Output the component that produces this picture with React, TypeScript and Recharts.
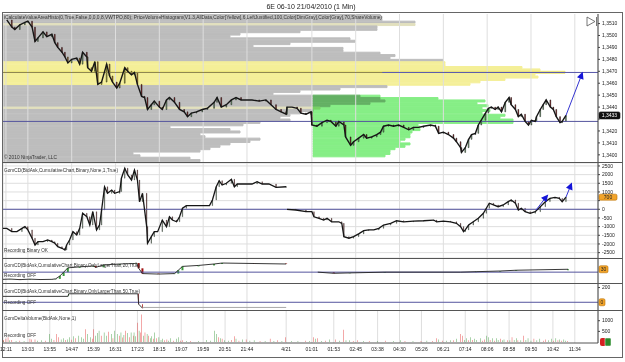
import React from "react";
import {
  ComposedChart,
  BarChart,
  Bar,
  Line,
  XAxis,
  YAxis,
  CartesianGrid,
  ReferenceLine,
  Cell,
} from "recharts";

const FONT = "'Liberation Sans', Arial, Helvetica, sans-serif";

// ---------------- time axis (bar number of the 1-minute series) ----------------
const barDomain: [number, number] = [0, 1412];
const timeTickBars = [7, 59, 111, 163, 215, 267, 319, 371, 423, 475, 527, 579, 672, 733, 785, 837, 889, 941, 993, 1045, 1097, 1149, 1201, 1253, 1305, 1357];
const timeTickLabels = ["12:11", "13:03", "13:55", "14:47", "15:39", "16:31", "17:23", "18:15", "19:07", "19:59", "20:51", "21:44", "4/21", "01:01", "01:53", "02:45", "03:38", "04:30", "05:26", "06:21", "07:14", "08:06", "08:58", "09:50", "10:42", "11:34"];

// ---------------- price (6E 06-10) ----------------
const priceBars = [9, 21, 28, 40, 52, 59, 69, 76, 83, 95, 104, 116, 123, 130, 140, 147, 154, 163, 175, 182, 189, 199, 201, 210, 218, 225, 234, 246, 253, 260, 270, 277, 289, 296, 305, 312, 319, 329, 336, 343, 352, 359, 371, 378, 388, 395, 407, 419, 430, 438, 447, 459, 473, 485, 501, 508, 518, 530, 542, 553, 565, 577, 591, 608, 624, 636, 648, 660, 672, 674, 686, 698, 707, 719, 731, 733, 745, 757, 769, 778, 790, 797, 809, 813, 825, 832, 844, 856, 863, 875, 887, 896, 903, 915, 927, 939, 951, 963, 974, 986, 998, 1015, 1026, 1034, 1045, 1057, 1069, 1076, 1086, 1088, 1097, 1105, 1112, 1121, 1128, 1135, 1145, 1152, 1159, 1168, 1175, 1183, 1192, 1201, 1206, 1216, 1223, 1230, 1239, 1247, 1254, 1263, 1266, 1275, 1282, 1289, 1299, 1306, 1313, 1322, 1327, 1336];
const priceCloses = [1.3513, 1.3507, 1.3505, 1.3509, 1.3511, 1.3512, 1.3507, 1.3495, 1.3498, 1.3503, 1.3499, 1.3501, 1.3494, 1.349, 1.3486, 1.3482, 1.3477, 1.348, 1.3481, 1.3476, 1.3486, 1.3482, 1.3473, 1.347, 1.3478, 1.3459, 1.3461, 1.3476, 1.3466, 1.3461, 1.3456, 1.346, 1.3473, 1.347, 1.3467, 1.3469, 1.3459, 1.3449, 1.3448, 1.3438, 1.3442, 1.3445, 1.344, 1.3438, 1.3446, 1.3448, 1.3444, 1.3438, 1.3436, 1.3432, 1.3435, 1.3436, 1.3438, 1.3439, 1.3444, 1.3448, 1.344, 1.3442, 1.3446, 1.3448, 1.3446, 1.3446, 1.3446, 1.3445, 1.3446, 1.3442, 1.3438, 1.3436, 1.3434, 1.344, 1.344, 1.3439, 1.3435, 1.3434, 1.3436, 1.3425, 1.3424, 1.3427, 1.3429, 1.3428, 1.3424, 1.3428, 1.3425, 1.3415, 1.3408, 1.3411, 1.3414, 1.3417, 1.3414, 1.3415, 1.3417, 1.3419, 1.3424, 1.3425, 1.3424, 1.3425, 1.3423, 1.3421, 1.3423, 1.3423, 1.3424, 1.3425, 1.3424, 1.3418, 1.3419, 1.3417, 1.3414, 1.3411, 1.3406, 1.3402, 1.3406, 1.3413, 1.3417, 1.3418, 1.3425, 1.3429, 1.3435, 1.3439, 1.344, 1.3438, 1.344, 1.3436, 1.3444, 1.3448, 1.3442, 1.3438, 1.3432, 1.3434, 1.3428, 1.3425, 1.3429, 1.3428, 1.3432, 1.3438, 1.3442, 1.3446, 1.344, 1.3438, 1.3432, 1.3427, 1.3428, 1.3433];
const priceDomain: [number, number] = [1.3394, 1.3518];
const priceTicks = [1.34, 1.341, 1.342, 1.343, 1.344, 1.345, 1.346, 1.347, 1.348, 1.349, 1.35, 1.351];
const pocPrice = 1.3469;
const supportPrice = 1.3428;
const valueAreaLow = 1.3458;
const valueAreaHigh = 1.3478;
const priceArrowBars = [1336, 1372];
const priceArrowValues = [1.3433, 1.3466];

// ---------------- volume profiles ----------------
const profileLevels = [1.3517, 1.3515, 1.3513, 1.3511, 1.3509, 1.3507, 1.3505, 1.3503, 1.3501, 1.3499, 1.3497, 1.3495, 1.3493, 1.3491, 1.3489, 1.3487, 1.3485, 1.3483, 1.3481, 1.3479, 1.3477, 1.3475, 1.3473, 1.3471, 1.3469, 1.3467, 1.3465, 1.3463, 1.3461, 1.3459, 1.3457, 1.3455, 1.3453, 1.3451, 1.3449, 1.3447, 1.3445, 1.3443, 1.3441, 1.3439, 1.3437, 1.3435, 1.3433, 1.3431, 1.3429, 1.3427, 1.3425, 1.3423, 1.3421, 1.3419, 1.3417, 1.3415, 1.3413, 1.3411, 1.3409, 1.3407, 1.3405, 1.3403, 1.3401, 1.3399, 1.3397, 1.3395];
const allDataProfileVolume = [377, 379, 379, 412, 412, 374, 374, 297, 237, 227, 347, 352, 287, 250, 340, 340, 377, 392, 387, 440, 442, 442, 519, 537, 562, 532, 535, 502, 477, 467, 384, 337, 297, 270, 357, 377, 382, 367, 327, 317, 310, 297, 287, 277, 287, 257, 240, 167, 227, 237, 197, 202, 257, 247, 227, 217, 207, 197, 130, 137, 187, 197];
const valueAreaEdgeLevels = [1.3509, 1.3439];
const sessionProfileLevels = [1.3449, 1.3447, 1.3445, 1.3443, 1.3441, 1.3439, 1.3437, 1.3435, 1.3433, 1.3431, 1.3429, 1.3427, 1.3425, 1.3423, 1.3421, 1.3419, 1.3417, 1.3415, 1.3413, 1.3411, 1.3409, 1.3407, 1.3405, 1.3403, 1.3401, 1.3399];
const sessionProfileVolume = [67, 125, 172, 164, 175, 169, 177, 169, 192, 187, 200, 200, 105, 107, 107, 99, 97, 97, 92, 87, 97, 92, 82, 77, 77, 72];
const profileDomain: [number, number] = [0, 595];
const sessionProfileAnchor = 310;

// ---------------- GomCD cumulative delta ----------------
const cdDay1Bars = [0, 9, 21, 33, 45, 52, 59, 69, 76, 83, 95, 106, 116, 123, 130, 140, 147, 151, 158, 166, 175, 182, 189, 199, 206, 213, 222, 229, 234, 241, 248, 258, 265, 277, 281, 289, 296, 305, 312, 319, 324, 331, 341, 343, 352, 359, 367, 378, 388, 395, 402, 412, 419, 426, 435, 490, 497, 506, 513, 520, 530, 542, 549, 556, 577, 591, 603, 615, 631, 648, 672];
const cdDay1Values = [-1100, -1100, -1290, -1290, -1100, -1000, -1190, -1670, -2060, -1870, -1870, -1770, -1870, -1960, -2160, -2250, -2350, -2060, -1770, -1290, -1480, -1100, -230, -430, -910, -140, -1190, -910, -40, 1300, 920, 1110, 920, 1020, 1790, 2370, 1980, 1690, 2270, 1690, 440, 920, -1000, -1960, -1580, -1290, -1290, -620, -1000, -430, -620, -720, -430, 60, 210, 210, 540, 1300, 1650, 1400, 1500, 1730, 1300, 1460, 1460, 1460, 1590, 1460, 1460, 1270, 1300];
const cdDay2Bars = [674, 695, 719, 733, 738, 750, 761, 769, 780, 797, 804, 809, 821, 832, 844, 856, 868, 880, 892, 903, 920, 934, 951, 974, 998, 1022, 1029, 1045, 1062, 1076, 1086, 1093, 1097, 1105, 1116, 1128, 1140, 1147, 1154, 1164, 1175, 1187, 1199, 1206, 1216, 1223, 1230, 1239, 1251, 1263, 1275, 1287, 1298, 1310, 1320, 1327, 1336];
const cdDay2Values = [0, -40, -140, -140, -430, -520, -620, -520, -720, -720, -810, -1580, -1670, -1580, -1420, -1230, -1190, -1190, -1100, -910, -810, -660, -720, -680, -660, -620, -720, -680, -720, -810, -1000, -1290, -1190, -910, -720, -520, -230, 60, 350, 250, 150, 250, 440, 540, 350, -40, 60, -140, -230, -140, 150, 440, 630, 690, 630, 440, 700];
const cdDomain: [number, number] = [-2810, 2671];
const cdTicks = [-2500, -2000, -1500, -1000, -500, 0, 500, 1000, 1500, 2000, 2500];
const cdArrow1Bars = [1265, 1287];
const cdArrow1Values = [-40, 650];
const cdArrow2Bars = [1336, 1346];
const cdArrow2Values = [700, 1300];

// ---------------- GomCD only larger than 20 ----------------
const cd20Day1Bars = [0, 17, 40, 64, 88, 116, 125, 135, 144, 154, 182, 215, 220, 239, 277, 312, 317, 322, 331, 369, 407, 416, 426, 464, 501, 520, 596, 672];
const cd20Day1Values = [-75, -72, -78, -73, -77, -75, -70, -40, 0, 45, 55, 65, 50, 75, 85, 90, 95, 40, -15, -20, -15, 20, 60, 70, 85, 95, 90, 85];
const cd20Day2Bars = [747, 785, 823, 906, 1086, 1123, 1180, 1218, 1341];
const cd20Day2Values = [0, -12, -8, 0, 0, 5, 12, 20, 30];
const cd20Domain: [number, number] = [-113, 137];

// ---------------- GomCD only larger than 50 ----------------
const cd50Bars = [0, 154, 156, 320, 322, 331];
const cd50Values = [80, 80, 115, 115, -26, -80];
const cd50TailBars = [331, 672];
const cd50TailValues = [-70, -70];
const cd50Domain: [number, number] = [-105, 248];

// ---------------- GomDeltaVolume ----------------
type DV = [number, number, "b" | "s"];
const deltaVolumeDay1: DV[] = [[1, 60, "b"], [2, 90, "s"], [7, 150, "s"], [12, 230, "s"], [16, 80, "b"], [21, 90, "s"], [31, 50, "b"], [40, 60, "s"], [50, 50, "b"], [64, 150, "s"], [68, 120, "s"], [76, 120, "s"], [82, 60, "b"], [92, 80, "b"], [101, 60, "s"], [111, 380, "b"], [115, 150, "b"], [121, 90, "s"], [127, 380, "s"], [132, 230, "s"], [138, 120, "b"], [144, 180, "b"], [149, 90, "s"], [153, 120, "b"], [158, 230, "b"], [163, 110, "s"], [167, 270, "b"], [172, 180, "s"], [180, 300, "b"], [186, 230, "b"], [191, 150, "b"], [196, 600, "s"], [200, 380, "b"], [208, 230, "b"], [212, 150, "s"], [215, 600, "s"], [219, 300, "b"], [224, 420, "b"], [228, 530, "b"], [233, 300, "s"], [240, 450, "b"], [245, 300, "b"], [251, 480, "s"], [257, 380, "b"], [261, 180, "s"], [264, 530, "b"], [271, 380, "b"], [276, 300, "s"], [280, 450, "b"], [284, 210, "s"], [287, 330, "b"], [291, 530, "s"], [296, 420, "b"], [300, 230, "s"], [304, 450, "b"], [309, 300, "s"], [311, 450, "b"], [315, 270, "b"], [320, 900, "s"], [323, 530, "b"], [326, 450, "s"], [329, 1290, "s"], [333, 300, "b"], [337, 450, "s"], [342, 380, "b"], [346, 300, "s"], [350, 180, "b"], [353, 270, "b"], [357, 150, "s"], [360, 450, "b"], [365, 180, "s"], [370, 230, "b"], [375, 90, "b"], [379, 150, "b"], [384, 80, "s"], [389, 120, "s"], [393, 60, "b"], [398, 180, "b"], [405, 60, "s"], [412, 150, "b"], [417, 230, "b"], [422, 60, "s"], [426, 80, "s"], [436, 50, "b"], [445, 50, "s"], [464, 50, "b"], [483, 90, "b"], [492, 60, "b"], [502, 530, "b"], [506, 380, "b"], [511, 230, "s"], [516, 180, "b"], [520, 150, "s"], [526, 80, "b"], [535, 60, "b"], [542, 90, "s"], [549, 270, "s"], [553, 150, "b"], [560, 60, "s"], [568, 120, "b"], [577, 120, "s"], [586, 60, "b"], [596, 80, "b"], [610, 50, "s"], [622, 50, "b"], [634, 150, "s"], [643, 50, "b"], [652, 80, "s"], [662, 50, "b"], [671, 230, "s"]];
const deltaVolumeDay2: DV[] = [[685, 50, "b"], [700, 50, "b"], [718, 60, "s"], [728, 50, "b"], [737, 230, "s"], [742, 150, "b"], [747, 180, "s"], [756, 50, "b"], [765, 60, "s"], [775, 120, "b"], [789, 120, "s"], [798, 60, "b"], [808, 580, "s"], [814, 80, "b"], [822, 80, "b"], [831, 50, "s"], [841, 80, "s"], [855, 50, "b"], [869, 50, "s"], [888, 50, "b"], [907, 60, "s"], [926, 50, "b"], [944, 80, "b"], [954, 50, "s"], [973, 50, "b"], [992, 50, "s"], [1006, 60, "b"], [1020, 50, "s"], [1029, 180, "s"], [1034, 120, "b"], [1043, 60, "s"], [1053, 60, "b"], [1062, 80, "b"], [1069, 80, "s"], [1076, 150, "b"], [1086, 380, "s"], [1090, 300, "s"], [1095, 90, "b"], [1100, 180, "b"], [1105, 80, "s"], [1109, 230, "b"], [1114, 90, "s"], [1119, 150, "b"], [1123, 90, "b"], [1133, 180, "b"], [1138, 60, "s"], [1142, 120, "s"], [1147, 300, "b"], [1152, 230, "b"], [1156, 90, "s"], [1161, 180, "b"], [1166, 60, "s"], [1171, 180, "b"], [1175, 90, "b"], [1180, 150, "s"], [1185, 80, "b"], [1189, 120, "b"], [1197, 80, "s"], [1203, 80, "b"], [1208, 230, "s"], [1213, 90, "b"], [1218, 180, "b"], [1222, 80, "s"], [1229, 80, "b"], [1236, 300, "s"], [1241, 90, "b"], [1246, 180, "b"], [1253, 60, "b"], [1260, 150, "s"], [1267, 80, "b"], [1274, 150, "b"], [1282, 60, "s"], [1288, 120, "s"], [1295, 80, "b"], [1302, 150, "b"], [1307, 60, "s"], [1312, 180, "b"], [1317, 80, "s"], [1321, 120, "b"], [1326, 60, "s"], [1331, 120, "b"], [1335, 60, "b"], [1340, 50, "s"]];
const deltaDomain: [number, number] = [-45, 1455];
const deltaTicks = [500, 1000];

// ---------------- helpers ----------------
const near = (a: number, b: number) => Math.abs(a - b) < 1e-7;

function candles(bars: number[], values: number[], key: string) {
  return bars.map((bar, i) => {
    const v = values[i];
    const o = i > 0 ? values[i - 1] : v;
    return { bar, [key]: v, body: [Math.min(o, v), Math.max(o, v)], up: v >= o };
  });
}

const priceData = candles(priceBars, priceCloses, "close");
const priceArrow = priceArrowBars.map((bar, i) => ({ bar, v: priceArrowValues[i] }));

const profileData = profileLevels.map((level, i) => {
  const j = sessionProfileLevels.findIndex((l) => near(l, level));
  return {
    level: level.toFixed(4),
    price: level,
    allData: allDataProfileVolume[i],
    anchor: sessionProfileAnchor,
    session: j >= 0 ? sessionProfileVolume[j] : 0,
  };
});

const cdData = [
  ...candles(cdDay1Bars, cdDay1Values, "cd"),
  { bar: 673, cd: null as any, body: null as any, up: true },
  ...candles(cdDay2Bars, cdDay2Values, "cd"),
];
const cdArrow1 = cdArrow1Bars.map((bar, i) => ({ bar, v: cdArrow1Values[i] }));
const cdArrow2 = cdArrow2Bars.map((bar, i) => ({ bar, v: cdArrow2Values[i] }));

const cd20Data = [
  ...candles(cd20Day1Bars, cd20Day1Values, "cd"),
  { bar: 700, cd: null as any, body: null as any, up: true },
  ...candles(cd20Day2Bars, cd20Day2Values, "cd"),
];

const cd50Data = [
  ...candles(cd50Bars, cd50Values, "cd"),
  ...cd50TailBars.map((bar, i) => ({ bar, tail: cd50TailValues[i], body: null as any, up: true })),
];

const deltaData = [...deltaVolumeDay1, ...deltaVolumeDay2].map(([bar, vol, side]) => ({ bar, vol, side }));

const lastClose = priceCloses[priceCloses.length - 1];
const lastCd = cdDay2Values[cdDay2Values.length - 1];
const fmtPrice = (v: number) => v.toFixed(4).replace(".", ",");
// last-value tags sit on top of the tick labels they cover
const fmtPriceTick = (v: number) => (Math.abs(v - lastClose) < 0.0005 ? "" : fmtPrice(v));
const fmtCdTick = (v: number) => (Math.abs(v - lastCd) < 300 ? "" : String(v));
const fmtTime = (v: number) => {
  const i = timeTickBars.indexOf(v);
  return i >= 0 ? timeTickLabels[i] : "";
};

// ---------------- small render pieces ----------------
function AxisTag(props: any) {
  const { viewBox, text, bg, fg, w = 21, h = 7, border } = props;
  if (!viewBox) return null;
  const x = viewBox.x + viewBox.width + 1;
  const y = viewBox.y;
  return (
    <g>
      <rect x={x} y={y - h / 2} width={w} height={h} rx={1.5} fill={bg} stroke={border || bg} strokeWidth={0.6} />
      <text x={x + w / 2} y={y + 1.8} fontSize={5} fill={fg} textAnchor="middle">
        {text}
      </text>
    </g>
  );
}

function DeltaTag(props: any) {
  const { viewBox } = props;
  if (!viewBox) return null;
  const x = viewBox.x + viewBox.width + 2;
  const y = viewBox.y;
  return (
    <g>
      <rect x={x} y={y - 4} width={6} height={8} rx={2} fill="#d42020" />
      <rect x={x + 5} y={y - 4} width={6} height={8} rx={1} fill="#2a8a2a" stroke="#fff" strokeWidth={0.5} />
    </g>
  );
}

const arrowDot = (rot: number) => (p: any) => {
  const { cx, cy, index } = p;
  if (index !== 1 || cx == null) return <g key={`ad${index}`} />;
  return (
    <polygon
      key={`ad${index}`}
      points="0,-4.5 3.5,2.5 -3.5,2.5"
      transform={`translate(${cx},${cy}) rotate(${rot})`}
      fill="#1414d8"
    />
  );
};

const axisTick = { fontSize: 5, fill: "#222" };
const gridColor = "#dedede";

function Pane({ top, left = 0, blend, children }: { top: number; left?: number; blend?: any; children: React.ReactNode }) {
  return <div style={{ position: "absolute", top, left, mixBlendMode: blend }}>{children}</div>;
}

const candleFill = (d: any, vaColor: boolean) => {
  const inVA = vaColor && d.close >= valueAreaLow && d.close <= valueAreaHigh;
  if (inVA) return d.up ? "#d4dc48" : "#e6901e";
  return d.up ? "#98d898" : "#a01010";
};

const profileFill = (price: number) => {
  const va = price >= valueAreaLow && price <= valueAreaHigh;
  const edge = valueAreaEdgeLevels.some((l) => near(l, price));
  return va ? (near(price, pocPrice) ? "#efe878" : "#f4ef98") : edge ? "#e2e0be" : "#bdbdbd";
};

const sessionGreen = "#86ee86";

export default function App() {
  const lastCd20 = cd20Day2Values[cd20Day2Values.length - 1];
  const ann = "#333";
  return (
    <div
      style={{
        position: "absolute",
        left: 0,
        top: 0,
        width: 625,
        height: 362,
        background: "#fff",
        overflow: "hidden",
        fontFamily: FONT,
        isolation: "isolate",
      }}
    >
      {/* session profile (all data) */}
      <Pane top={14} left={3}>
        <BarChart layout="vertical" width={595} height={148} data={profileData} margin={{ top: 0, right: 0, bottom: 0, left: 0 }} barCategoryGap={0}>
          <XAxis type="number" domain={profileDomain} hide allowDataOverflow />
          <YAxis type="category" dataKey="level" hide />
          <Bar dataKey="allData" isAnimationActive={false}>
            {profileData.map((d, i) => {
              const fill = profileFill(d.price);
              return <Cell key={i} fill={fill} stroke={fill} strokeWidth={1} />;
            })}
          </Bar>
        </BarChart>
      </Pane>

      {/* current session profile (multiplied over the all-data profile) */}
      <Pane top={14} left={3} blend="multiply">
        <BarChart layout="vertical" width={595} height={148} data={profileData} margin={{ top: 0, right: 0, bottom: 0, left: 0 }} barCategoryGap={0}>
          <XAxis type="number" domain={profileDomain} hide allowDataOverflow />
          <YAxis type="category" dataKey="level" hide />
          <Bar dataKey="anchor" stackId="s" fill="none" isAnimationActive={false} />
          <Bar dataKey="session" stackId="s" fill={sessionGreen} stroke={sessionGreen} strokeWidth={1} isAnimationActive={false} />
        </BarChart>
      </Pane>

      {/* price panel */}
      <Pane top={14}>
        <ComposedChart width={625} height={148} data={priceData} margin={{ top: 0, right: 0, bottom: 0, left: 3 }}>
          <CartesianGrid horizontal={false} stroke={gridColor} />
          <XAxis type="number" dataKey="bar" domain={barDomain} ticks={timeTickBars} hide allowDataOverflow />
          <YAxis
            orientation="right"
            width={27}
            domain={priceDomain}
            ticks={priceTicks}
            interval={0}
            tick={axisTick}
            tickSize={2}
            tickFormatter={fmtPriceTick}
            axisLine={{ stroke: "#444" }}
            tickLine={{ stroke: "#444" }}
            allowDataOverflow
          />
          <ReferenceLine y={pocPrice} stroke="#8c8450" />
          <ReferenceLine segment={[{ x: 900, y: pocPrice }, { x: 1412, y: pocPrice }]} stroke="#5c5cb0" />
          <ReferenceLine y={supportPrice} stroke="#55559e" />
          <Line dataKey="close" stroke="#161616" strokeWidth={1.4} dot={false} isAnimationActive={false} />
          <Bar dataKey="body" barSize={3} stroke="#111" strokeWidth={0.5} isAnimationActive={false}>
            {priceData.map((d, i) => (
              <Cell key={i} fill={candleFill(d, true)} />
            ))}
          </Bar>
          <Line data={priceArrow} dataKey="v" stroke="#3434d0" strokeWidth={1} dot={arrowDot(21)} isAnimationActive={false} />
          <ReferenceLine y={lastClose} stroke="none" label={<AxisTag text={fmtPrice(lastClose)} bg="#111" fg="#fff" />} />
        </ComposedChart>
      </Pane>

      {/* cumulative delta panel */}
      <Pane top={163}>
        <ComposedChart width={625} height={95} data={cdData} margin={{ top: 0, right: 0, bottom: 0, left: 3 }}>
          <CartesianGrid stroke={gridColor} />
          <XAxis type="number" dataKey="bar" domain={barDomain} ticks={timeTickBars} hide allowDataOverflow />
          <YAxis
            orientation="right"
            width={27}
            domain={cdDomain}
            ticks={cdTicks}
            interval={0}
            tick={axisTick}
            tickSize={2}
            tickFormatter={fmtCdTick}
            axisLine={{ stroke: "#444" }}
            tickLine={{ stroke: "#444" }}
            allowDataOverflow
          />
          <ReferenceLine y={0} stroke="#55559e" />
          <Line dataKey="cd" stroke="#161616" strokeWidth={1.3} dot={false} connectNulls={false} isAnimationActive={false} />
          <Bar dataKey="body" barSize={3} stroke="#111" strokeWidth={0.4} isAnimationActive={false}>
            {cdData.map((d: any, i) => (
              <Cell key={i} fill={d.up ? "#9fd49f" : "#a01010"} />
            ))}
          </Bar>
          <Line data={cdArrow1} dataKey="v" stroke="#3434d0" strokeWidth={1} dot={arrowDot(40)} isAnimationActive={false} />
          <Line data={cdArrow2} dataKey="v" stroke="#3434d0" strokeWidth={1} dot={arrowDot(22)} isAnimationActive={false} />
          <ReferenceLine y={lastCd} stroke="none" label={<AxisTag text={String(lastCd)} bg="#f2a42a" fg="#222" border="#b86e00" w={18} h={6} />} />
        </ComposedChart>
      </Pane>

      {/* GomCD > 20 */}
      <Pane top={259}>
        <ComposedChart width={625} height={24} data={cd20Data} margin={{ top: 0, right: 0, bottom: 0, left: 3 }}>
          <CartesianGrid horizontal={false} stroke={gridColor} />
          <XAxis type="number" dataKey="bar" domain={barDomain} ticks={timeTickBars} hide allowDataOverflow />
          <YAxis orientation="right" width={27} domain={cd20Domain} ticks={[]} tick={false} axisLine={{ stroke: "#444" }} allowDataOverflow />
          <ReferenceLine y={0} stroke="#55559e" />
          <Line dataKey="cd" stroke="#222" strokeWidth={0.9} dot={false} connectNulls={false} isAnimationActive={false} />
          <Bar dataKey="body" barSize={2} isAnimationActive={false}>
            {cd20Data.map((d: any, i) => (
              <Cell key={i} fill={d.up ? "#3c9a3c" : "#a01010"} />
            ))}
          </Bar>
          <ReferenceLine y={lastCd20} stroke="none" label={<AxisTag text={String(lastCd20)} bg="#f2a42a" fg="#222" border="#b86e00" w={9} />} />
        </ComposedChart>
      </Pane>

      {/* GomCD > 50 */}
      <Pane top={284}>
        <ComposedChart width={625} height={26} data={cd50Data} margin={{ top: 0, right: 0, bottom: 0, left: 3 }}>
          <CartesianGrid horizontal={false} stroke={gridColor} />
          <XAxis type="number" dataKey="bar" domain={barDomain} ticks={timeTickBars} hide allowDataOverflow />
          <YAxis
            orientation="right"
            width={27}
            domain={cd50Domain}
            ticks={[200]}
            interval={0}
            tick={axisTick}
            tickSize={2}
            axisLine={{ stroke: "#444" }}
            tickLine={{ stroke: "#444" }}
            allowDataOverflow
          />
          <ReferenceLine y={0} stroke="#55559e" />
          <Line dataKey="cd" stroke="#222" strokeWidth={0.9} dot={false} isAnimationActive={false} />
          <Line dataKey="tail" stroke="#a8a8a8" strokeWidth={1} dot={false} isAnimationActive={false} />
          <Bar dataKey="body" barSize={2} isAnimationActive={false}>
            {cd50Data.map((d: any, i) => (
              <Cell key={i} fill={d.up ? "#3c9a3c" : "#a01010"} />
            ))}
          </Bar>
          <ReferenceLine y={0} stroke="none" label={<AxisTag text="0" bg="#f2a42a" fg="#222" border="#b86e00" w={6} />} />
        </ComposedChart>
      </Pane>

      {/* GomDeltaVolume + time axis */}
      <Pane top={311}>
        <BarChart width={625} height={47} data={deltaData} margin={{ top: 0, right: 0, bottom: 0, left: 3 }}>
          <CartesianGrid horizontal={false} stroke={gridColor} />
          <XAxis
            type="number"
            dataKey="bar"
            domain={barDomain}
            ticks={timeTickBars}
            interval={0}
            tickFormatter={fmtTime}
            tick={axisTick}
            tickLine={false}
            tickSize={0}
            tickMargin={4}
            height={15}
            axisLine={{ stroke: "#555" }}
            allowDataOverflow
          />
          <YAxis
            orientation="right"
            width={27}
            domain={deltaDomain}
            ticks={deltaTicks}
            interval={0}
            tick={axisTick}
            tickSize={2}
            axisLine={{ stroke: "#444" }}
            tickLine={{ stroke: "#444" }}
            allowDataOverflow
          />
          <Bar dataKey="vol" barSize={1.6} isAnimationActive={false}>
            {deltaData.map((d, i) => (
              <Cell key={i} fill={d.side === "b" ? "#218a21" : "#e01c1c"} />
            ))}
          </Bar>
          <ReferenceLine y={0} stroke="none" label={<DeltaTag />} />
        </BarChart>
      </Pane>

      {/* frame, titles and indicator captions */}
      <svg width={625} height={362} style={{ position: "absolute", left: 0, top: 0, pointerEvents: "none" }}>
        <text x={311} y={9} fontSize={7} textAnchor="middle" fill="#222">
          6E 06-10  21/04/2010 (1 Min)
        </text>
        <rect x={2.5} y={12.5} width={620} height={345} fill="none" stroke="#666" />
        <line x1={2.5} x2={622.5} y1={162.5} y2={162.5} stroke="#555" />
        <line x1={2.5} x2={622.5} y1={258.5} y2={258.5} stroke="#555" />
        <line x1={2.5} x2={622.5} y1={283.5} y2={283.5} stroke="#555" />
        <line x1={2.5} x2={622.5} y1={310.5} y2={310.5} stroke="#555" />
        <polyline points="587,17 595,21.5 587,26 587,17" fill="none" stroke="#555" strokeWidth={0.8} />
        <line x1={596.5} x2={596.5} y1={17} y2={26} stroke="#555" strokeWidth={0.8} />

        <text x={4} y={19} fontSize={5} fill={ann} textLength={378} lengthAdjust="spacingAndGlyphs">
          iCalculateValueAreaHisto(0,True,False,0,0,0,8,VWTPO,80); PriceVolumeHistogram(V1.3,AllData,Color[Yellow],6,LeftJustified,100,Color[DimGray],Color[Gray],70,ShareVolume)
        </text>
        <text x={4} y={159} fontSize={5} fill={ann} textLength={53} lengthAdjust="spacingAndGlyphs">
          © 2010 NinjaTrader, LLC
        </text>

        <text x={4} y={172} fontSize={5} fill={ann} textLength={114} lengthAdjust="spacingAndGlyphs">
          GomCD(BidAsk,CumulativeChart,Binary,None,1,True)
        </text>
        <text x={4} y={252} fontSize={5} fill={ann} textLength={44} lengthAdjust="spacingAndGlyphs">
          Recording Binary OK
        </text>

        <text x={4} y={267} fontSize={5} fill={ann} textLength={136} lengthAdjust="spacingAndGlyphs">
          GomCD(BidAsk,CumulativeChart,Binary,OnlyLargerThan,20,True)
        </text>
        <text x={4} y={277} fontSize={5} fill={ann} textLength={32} lengthAdjust="spacingAndGlyphs">
          Recording OFF
        </text>

        <text x={4} y={293} fontSize={5} fill={ann} textLength={136} lengthAdjust="spacingAndGlyphs">
          GomCD(BidAsk,CumulativeChart,Binary,OnlyLargerThan,50,True)
        </text>
        <text x={4} y={304} fontSize={5} fill={ann} textLength={32} lengthAdjust="spacingAndGlyphs">
          Recording OFF
        </text>

        <text x={4} y={320} fontSize={5} fill={ann} textLength={72} lengthAdjust="spacingAndGlyphs">
          GomDeltaVolume(BidAsk,None,1)
        </text>
        <text x={4} y={337} fontSize={5} fill={ann} textLength={32} lengthAdjust="spacingAndGlyphs">
          Recording OFF
        </text>
      </svg>
    </div>
  );
}
